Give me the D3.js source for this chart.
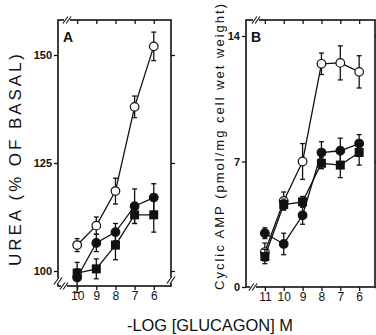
<!DOCTYPE html>
<html>
<head>
<meta charset="utf-8">
<script src="https://cdn.jsdelivr.net/npm/d3@7"></script>
<style>
  body { margin: 0; background: #fff; }
  svg text { font-family: "Liberation Sans", Arial, sans-serif; fill: #111; }
</style>
</head>
<body>
<svg class="chart" width="376" height="335"></svg>
<script>
// panel A: urea, % of basal
const dosesA = [10, 9, 8, 7, 6];
const ureaOpen = [106, 110.5, 118.5, 138, 152];
const ureaOpenErr = [1.5, 2, 3, 2.5, 3.3];
const ureaFilled = [98.5, 106.5, 109, 115, 117];
const ureaFilledErr = [3.5, 2, 2, 4, 3.2];
const ureaSquare = [99.5, 100.5, 106, 113, 113];
const ureaSquareErr = [1, 2.3, 3.4, 2, 4];
const ticksA = [100, 125, 150];

// panel B: cyclic AMP
const dosesB = [11, 10, 9, 8, 7, 6];
const campOpen = [1.95, 4.8, 7.0, 12.45, 12.5, 12.0];
const campOpenErr = [0.5, 0.5, 1.0, 0.6, 0.95, 0.9];
const campFilled = [3.0, 2.4, 4.0, 7.5, 7.6, 8.0];
const campFilledErr = [0.3, 0.6, 0.5, 0.6, 0.7, 0.5];
const campSquare = [1.7, 4.6, 4.75, 6.9, 6.8, 7.5];
const campSquareErr = [0.4, 0.3, 0.3, 0.3, 0.7, 0.7];
const ticksB = [0, 7, 14];

let svg = d3.select(".chart");
const ink = "#111";

function panel(o) {
  let x = d3.scaleLinear().domain(o.xDom).range([o.left, o.right]),
      y = d3.scaleLinear().domain(o.yDom).range(o.yRange);
  let g = svg.append("g");

  // frame
  g.append("rect")
    .attr("x", o.left).attr("y", o.top)
    .attr("width", o.right - o.left).attr("height", o.bottom - o.top)
    .attr("fill", "none").attr("stroke", ink).attr("stroke-width", 1.6);

  // axes: ticks only, frame drawn above
  let axL = d3.axisLeft(y).tickValues(o.yTicks).tickSize(4).tickPadding(2).tickFormat(d3.format("d"));
  g.append("g").attr("transform", "translate(" + o.left + ",0)").call(axL)
    .call(a => {
      a.select(".domain").remove();
      a.selectAll(".tick line").attr("stroke", ink).attr("stroke-width", 1.3);
      a.selectAll(".tick text").attr("font-size", 11).attr("font-weight", "bold").attr("fill", ink);
    });
  let axR = d3.axisRight(y).tickValues(o.yTicks).tickSize(4).tickFormat("");
  g.append("g").attr("transform", "translate(" + o.right + ",0)").call(axR)
    .call(a => {
      a.select(".domain").remove();
      a.selectAll(".tick line").attr("stroke", ink).attr("stroke-width", 1.3);
    });
  let axT = d3.axisTop(x).tickValues(o.doses).tickSize(-4).tickFormat("");
  g.append("g").attr("transform", "translate(0," + o.top + ")").call(axT)
    .call(a => {
      a.select(".domain").remove();
      a.selectAll(".tick line").attr("stroke", ink).attr("stroke-width", 1.3);
    });
  let axB = d3.axisBottom(x).tickValues(o.doses).tickSize(4).tickPadding(1).tickFormat(d3.format("d"));
  g.append("g").attr("transform", "translate(0," + o.bottom + ")").call(axB)
    .call(a => {
      a.select(".domain").remove();
      a.selectAll(".tick line").attr("stroke", ink).attr("stroke-width", 1.3);
      a.selectAll(".tick text").attr("font-size", 12).attr("fill", ink);
    });

  // axis breaks
  o.breaks.forEach(b => {
    g.append("rect")
      .attr("x", b[0] - 3).attr("y", b[1] - 3)
      .attr("width", 6).attr("height", 6).attr("fill", "#fff");
    [-1.6, 1.6].forEach(d => {
      g.append("line")
        .attr("x1", b[0] + d - 2.5).attr("y1", b[1] + 3.5)
        .attr("x2", b[0] + d + 2.5).attr("y2", b[1] - 3.5)
        .attr("stroke", ink).attr("stroke-width", 1.1);
    });
  });

  // series
  o.series.forEach(s => {
    let pts = o.doses.map((d, i) => [d, s.v[i], s.e[i]]);
    g.append("path").datum(pts)
      .attr("d", d3.line().x(d => x(d[0])).y(d => y(d[1])))
      .attr("fill", "none").attr("stroke", ink).attr("stroke-width", 1.3);
    let eb = g.append("g");
    pts.forEach(p => {
      let cx = x(p[0]), y1 = y(p[1] + p[2]), y2 = y(p[1] - p[2]);
      eb.append("line").attr("x1", cx).attr("x2", cx).attr("y1", y1).attr("y2", y2)
        .attr("stroke", ink).attr("stroke-width", 1.3);
      [y1, y2].forEach(yy => eb.append("line")
        .attr("x1", cx - 2.5).attr("x2", cx + 2.5).attr("y1", yy).attr("y2", yy)
        .attr("stroke", ink).attr("stroke-width", 1.3));
    });
    if (s.shape === "square") {
      g.selectAll(null).data(pts).enter().append("rect")
        .attr("x", d => x(d[0]) - 4.5).attr("y", d => y(d[1]) - 4.5)
        .attr("width", 9).attr("height", 9).attr("fill", ink);
    } else {
      g.selectAll(null).data(pts).enter().append("circle")
        .attr("cx", d => x(d[0])).attr("cy", d => y(d[1])).attr("r", 4.3)
        .attr("fill", s.shape === "open" ? "#fff" : ink)
        .attr("stroke", ink).attr("stroke-width", 1.2);
    }
  });

  g.append("text").attr("x", o.label[0]).attr("y", o.label[1])
    .attr("font-size", 14).attr("font-weight", "bold").text(o.label[2]);

  g.append("text")
    .attr("transform", "translate(" + o.ytitle[0] + "," + o.ytitle[1] + ") rotate(-90)")
    .attr("text-anchor", "middle").attr("dominant-baseline", "central")
    .attr("font-size", o.ytitle[4]).attr("textLength", o.ytitle[3]).attr("lengthAdjust", "spacing")
    .text(o.ytitle[2]);
}

panel({
  xDom: [11, 5.1], yDom: [100, 150], yRange: [271, 55],
  left: 58, right: 171, top: 20, bottom: 286,
  doses: dosesA, yTicks: ticksA,
  series: [
    {v: ureaOpen, e: ureaOpenErr, shape: "open"},
    {v: ureaFilled, e: ureaFilledErr, shape: "filled"},
    {v: ureaSquare, e: ureaSquareErr, shape: "square"}
  ],
  breaks: [[64, 286], [67, 20], [171, 280], [58, 281]],
  label: [63, 42, "A"],
  ytitle: [15, 160, "UREA (% OF BASAL)", 212, 17]
});

panel({
  xDom: [12, 5.16], yDom: [0, 14], yRange: [287, 36],
  left: 246, right: 375, top: 20, bottom: 287,
  doses: dosesB, yTicks: ticksB,
  series: [
    {v: campOpen, e: campOpenErr, shape: "open"},
    {v: campFilled, e: campFilledErr, shape: "filled"},
    {v: campSquare, e: campSquareErr, shape: "square"}
  ],
  breaks: [[253, 287], [256, 20]],
  label: [251, 42, "B"],
  ytitle: [219, 147, "Cyclic AMP (pmol/mg cell wet weight)", 286, 13]
});

svg.append("text").attr("x", 210).attr("y", 325)
  .attr("text-anchor", "middle").attr("dominant-baseline", "central")
  .attr("font-size", 16).attr("textLength", 166).attr("lengthAdjust", "spacingAndGlyphs")
  .text("-LOG [GLUCAGON] M");
</script>
</body>
</html>
